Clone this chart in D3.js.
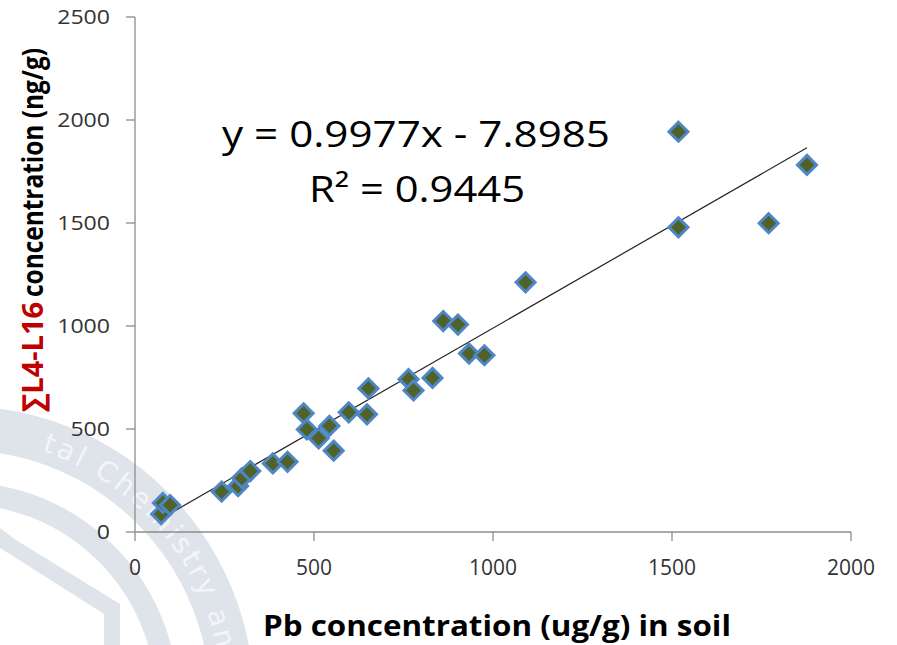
<!DOCTYPE html>
<html>
<head>
<meta charset="utf-8">
<script src="https://cdn.jsdelivr.net/npm/d3@7"></script>
<style>
  body { margin: 0; background: #fff; }
  svg { display: block; }
</style>
</head>
<body>
<div id="chart"></div>
<script>
var w = 897;
var h = 645;

// Pb in soil (ug/g) vs sum L4-L16 (ng/g)
var pbSoil = [73, 78, 98, 242, 288, 299, 322, 385, 426, 471, 480, 513, 543, 555,
              597, 648, 652, 764, 778, 831, 861, 902, 933, 976, 1091, 1518, 1518, 1770, 1877];
var sumL = [87, 141, 131, 196, 223, 262, 296, 333, 341, 576, 498, 455, 515, 395,
            581, 571, 697, 742, 687, 748, 1024, 1007, 866, 858, 1212, 1943, 1479, 1499, 1782];
var xTicks = [0, 500, 1000, 1500, 2000];
var yTicks = [0, 500, 1000, 1500, 2000, 2500];
var slope = 0.9977;
var intercept = -7.8985;
var eqText = "y = 0.9977x - 7.8985";
var r2Text = "R\u00b2 = 0.9445";

var x = d3.scaleLinear().domain([0, 2000]).range([135, 851]);
var y = d3.scaleLinear().domain([0, 2500]).range([532, 17]);

var svg = d3.select("#chart")
    .append("svg")
    .attr("width", w)
    .attr("height", h);

// faint watermark arcs in the lower left
var wm = svg.append("g").attr("fill", "#dfe4eb");
var cx = -40, cy = 700;
var arc = d3.arc();
wm.append("path")
    .attr("transform", "translate(" + cx + "," + cy + ")")
    .attr("d", arc({innerRadius: 250, outerRadius: 294, startAngle: -0.1, endAngle: Math.PI / 2 + 0.2}));
wm.append("path")
    .attr("transform", "translate(" + cx + "," + cy + ")")
    .attr("d", arc({innerRadius: 196, outerRadius: 218, startAngle: -0.1, endAngle: Math.PI / 2 + 0.2}));
wm.append("path")
    .attr("d", "M0,528 L16,540 L120,604 L120,645 L104,645 L104,614 L8,553 L0,548 Z");
wm.append("path")
    .attr("id", "wmArc")
    .attr("fill", "none")
    .attr("d", "M" + (cx + 262 * Math.cos(-1.27)) + "," + (cy + 262 * Math.sin(-1.27)) +
         " A262,262 0 0 1 " + (cx + 262 * Math.cos(0.2)) + "," + (cy + 262 * Math.sin(0.2)));
svg.append("text")
    .attr("font-family", "DejaVu Sans, sans-serif")
    .attr("font-size", 28)
    .attr("letter-spacing", 3)
    .attr("fill", "#f3f5f8")
    .append("textPath")
    .attr("href", "#wmArc")
    .attr("startOffset", 4)
    .text("tal  Chemistry  an");

// axes
var axisColor = "#8c8c8c";
svg.append("line")
    .attr("x1", x(0)).attr("x2", x(0))
    .attr("y1", y(2500)).attr("y2", y(0))
    .attr("stroke", axisColor).attr("stroke-width", 1.3);
svg.append("line")
    .attr("x1", x(0)).attr("x2", x(2000))
    .attr("y1", y(0)).attr("y2", y(0))
    .attr("stroke", axisColor).attr("stroke-width", 1.3);

svg.selectAll(".ytick")
    .data(yTicks)
    .enter()
    .append("line")
    .attr("x1", x(0) - 9).attr("x2", x(0))
    .attr("y1", function(d) { return y(d); })
    .attr("y2", function(d) { return y(d); })
    .attr("stroke", axisColor).attr("stroke-width", 1.3);

svg.selectAll(".xtick")
    .data(xTicks)
    .enter()
    .append("line")
    .attr("x1", function(d) { return x(d); })
    .attr("x2", function(d) { return x(d); })
    .attr("y1", y(0)).attr("y2", y(0) + 9)
    .attr("stroke", axisColor).attr("stroke-width", 1.3);

svg.selectAll(".ylab")
    .data(yTicks)
    .enter()
    .append("text")
    .attr("x", 110)
    .attr("y", function(d) { return y(d) + 7; })
    .attr("text-anchor", "end")
    .attr("font-family", "Open Sans, sans-serif")
    .attr("font-size", 20)
    .attr("textLength", function(d) { return String(d).length * 13.2; })
    .attr("lengthAdjust", "spacingAndGlyphs")
    .attr("fill", "#333")
    .text(function(d) { return d; });

svg.selectAll(".xlab")
    .data(xTicks)
    .enter()
    .append("text")
    .attr("x", function(d) { return x(d); })
    .attr("y", 575)
    .attr("text-anchor", "middle")
    .attr("font-family", "Open Sans, sans-serif")
    .attr("font-size", 21)
    .attr("fill", "#333")
    .text(function(d) { return d; });

// axis titles
svg.append("text")
    .attr("x", 497)
    .attr("y", 636)
    .attr("text-anchor", "middle")
    .attr("font-family", "Open Sans, sans-serif")
    .attr("font-weight", "bold")
    .attr("font-size", 29)
    .attr("textLength", 468)
    .attr("lengthAdjust", "spacingAndGlyphs")
    .attr("fill", "#000")
    .text("Pb concentration (ug/g) in soil");

// y title: red sum part and black rest, rotated
var yTitle = svg.append("g").attr("transform", "translate(43,0) rotate(-90)");
yTitle.append("text")
    .attr("x", -412)
    .attr("y", 0)
    .attr("font-family", "Open Sans, sans-serif")
    .attr("font-weight", "bold")
    .attr("font-size", 29)
    .attr("textLength", 110)
    .attr("lengthAdjust", "spacingAndGlyphs")
    .attr("fill", "#c00000")
    .text("\u2211L4-L16");
yTitle.append("text")
    .attr("x", -297)
    .attr("y", 0)
    .attr("font-family", "Open Sans, sans-serif")
    .attr("font-weight", "bold")
    .attr("font-size", 29)
    .attr("textLength", 249)
    .attr("lengthAdjust", "spacingAndGlyphs")
    .attr("fill", "#000")
    .text("concentration (ng/g)");

// trend line
var xMin = d3.min(pbSoil), xMax = d3.max(pbSoil);
svg.append("line")
    .attr("x1", x(xMin)).attr("y1", y(slope * xMin + intercept))
    .attr("x2", x(xMax)).attr("y2", y(slope * xMax + intercept))
    .attr("stroke", "#222")
    .attr("stroke-width", 1.2);

// diamond markers
svg.selectAll(".pt")
    .data(pbSoil)
    .enter()
    .append("path")
    .attr("d", "M0,-9.5 L9.5,0 L0,9.5 L-9.5,0 Z")
    .attr("transform", function(d, i) {
        return "translate(" + x(d) + "," + y(sumL[i]) + ")";
    })
    .attr("fill", "#4f6228")
    .attr("stroke", "#4f86c6")
    .attr("stroke-width", 3);

// equation
svg.append("text")
    .attr("x", 416)
    .attr("y", 147)
    .attr("text-anchor", "middle")
    .attr("font-family", "Open Sans, sans-serif")
    .attr("font-size", 36)
    .attr("textLength", 388)
    .attr("lengthAdjust", "spacingAndGlyphs")
    .attr("fill", "#000")
    .text(eqText);
svg.append("text")
    .attr("x", 417)
    .attr("y", 202)
    .attr("text-anchor", "middle")
    .attr("font-family", "Open Sans, sans-serif")
    .attr("font-size", 36)
    .attr("textLength", 216)
    .attr("lengthAdjust", "spacingAndGlyphs")
    .attr("fill", "#000")
    .text(r2Text);
</script>
</body>
</html>
